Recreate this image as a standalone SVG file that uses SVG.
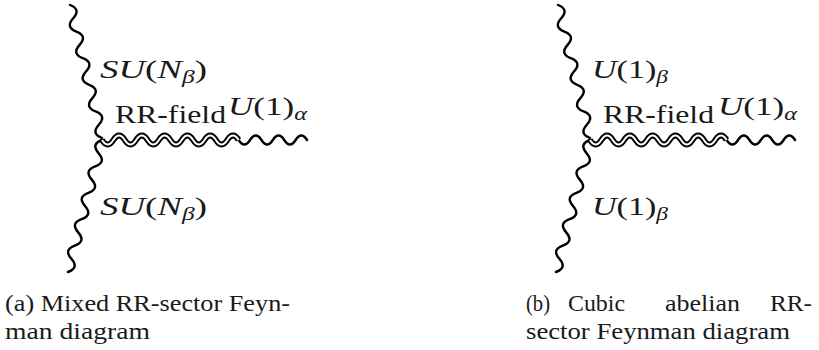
<svg xmlns="http://www.w3.org/2000/svg" width="819" height="350" viewBox="0 0 819 350">
<style>
.w{fill:none;stroke:#000;stroke-width:2.4;stroke-linecap:round;stroke-linejoin:round}
.dbo{fill:none;stroke:#000;stroke-width:5.8;stroke-linecap:butt}
.dbi{fill:none;stroke:#fff;stroke-width:2;stroke-linecap:butt}
.m{font-size:26px;fill:#1a1a1a}
.i{font-style:italic}
.s{font-size:18px}
.c{font-size:24px;fill:#1a1a1a}
</style>
<defs>
<path id="top" d="M70,5 c7.547,2.874 8.613,7.307 3.2,13.3 c-5.413,5.994 -4.347,10.427 3.2,13.3 c7.547,2.874 8.613,7.307 3.2,13.3 c-5.413,5.994 -4.347,10.427 3.2,13.3 c7.547,2.874 8.613,7.307 3.2,13.3 c-5.413,5.994 -4.347,10.427 3.2,13.3 c7.547,2.874 8.613,7.307 3.2,13.3 c-5.413,5.994 -4.347,10.427 3.2,13.3 c7.547,2.874 8.613,7.307 3.2,13.3 c-5.413,5.994 -4.347,10.427 3.2,13.3 L102,140"/>
<path id="bot" d="M102,140 c-7.589,2.737 -8.723,7.137 -3.4,13.2 c5.323,6.063 4.189,10.463 -3.4,13.2 c-7.589,2.737 -8.723,7.137 -3.4,13.2 c5.323,6.063 4.189,10.463 -3.4,13.2 c-7.589,2.737 -8.723,7.137 -3.4,13.2 c5.323,6.063 4.189,10.463 -3.4,13.2 c-7.589,2.737 -8.723,7.137 -3.4,13.2 c5.323,6.063 4.189,10.463 -3.4,13.2 c-7.589,2.737 -8.723,7.137 -3.4,13.2 c5.323,6.063 4.189,10.463 -3.4,13.2"/>
<path id="dbl" d="M102,140 c3.797,6 7.593,6 11.39,0 c3.797,-6 7.593,-6 11.39,0 c3.797,6 7.593,6 11.39,0 c3.797,-6 7.593,-6 11.39,0 c3.797,6 7.593,6 11.39,0 c3.797,-6 7.593,-6 11.39,0 c3.797,6 7.593,6 11.39,0 c3.797,-6 7.593,-6 11.39,0 c3.797,6 7.593,6 11.39,0 c3.797,-6 7.593,-6 11.39,0 c3.797,6 7.593,6 11.39,0 c3.797,-6 7.593,-6 11.39,0"/>
<path id="sgl" d="M238.68,140 c3.797,6 7.593,6 11.39,0 c3.797,-6 7.593,-6 11.39,0 c3.797,6 7.593,6 11.39,0 c3.797,-6 7.593,-6 11.39,0 c3.797,6 7.593,6 11.39,0 c3.797,-6 7.593,-6 11.39,0"/>
</defs>
<g id="connectors">
<g id="diagram-a-lines">
<use href="#top" class="w"/>
<use href="#bot" class="w"/>
<use href="#sgl" class="w"/>
<use href="#dbl" class="dbo"/>
<use href="#dbl" class="dbi"/>
</g>
<g id="diagram-b-lines" transform="translate(488,0)">
<use href="#top" class="w"/>
<use href="#bot" class="w"/>
<use href="#sgl" class="w"/>
<use href="#dbl" class="dbo"/>
<use href="#dbl" class="dbi"/>
</g>
</g>
<g font-family="'Liberation Serif','DejaVu Serif',serif">
<g id="label-a-top"><text class="m" x="100" y="78" textLength="107" lengthAdjust="spacingAndGlyphs"><tspan class="i">SU</tspan>(<tspan class="i">N</tspan><tspan class="i s" dy="5">β</tspan><tspan dy="-5">)</tspan></text></g>
<g id="label-a-rr"><text class="m" x="115" y="123" textLength="111" lengthAdjust="spacingAndGlyphs">RR-field</text></g>
<g id="label-a-alpha"><text class="m" x="228" y="115" textLength="79" lengthAdjust="spacingAndGlyphs"><tspan class="i">U</tspan>(1)<tspan class="i s" dy="5">α</tspan></text></g>
<g id="label-a-bot"><text class="m" x="100" y="215" textLength="107" lengthAdjust="spacingAndGlyphs"><tspan class="i">SU</tspan>(<tspan class="i">N</tspan><tspan class="i s" dy="5">β</tspan><tspan dy="-5">)</tspan></text></g>
<g id="label-b-top"><text class="m" x="592" y="78" textLength="76" lengthAdjust="spacingAndGlyphs"><tspan class="i">U</tspan>(1)<tspan class="i s" dy="5">β</tspan></text></g>
<g id="label-b-rr"><text class="m" x="603" y="123" textLength="111" lengthAdjust="spacingAndGlyphs">RR-field</text></g>
<g id="label-b-alpha"><text class="m" x="718" y="115" textLength="79" lengthAdjust="spacingAndGlyphs"><tspan class="i">U</tspan>(1)<tspan class="i s" dy="5">α</tspan></text></g>
<g id="label-b-bot"><text class="m" x="592" y="215" textLength="76" lengthAdjust="spacingAndGlyphs"><tspan class="i">U</tspan>(1)<tspan class="i s" dy="5">β</tspan></text></g>
<g id="caption-a">
<text class="c" x="5" y="311" textLength="285" lengthAdjust="spacingAndGlyphs">(a) Mixed RR-sector Feyn-</text>
<text class="c" x="5" y="339" textLength="145" lengthAdjust="spacingAndGlyphs">man diagram</text>
</g>
<g id="caption-b">
<text class="c" x="526" y="311" textLength="24" lengthAdjust="spacingAndGlyphs">(b)</text>
<text class="c" x="568" y="311" textLength="57" lengthAdjust="spacingAndGlyphs">Cubic</text>
<text class="c" x="665" y="311" textLength="75" lengthAdjust="spacingAndGlyphs">abelian</text>
<text class="c" x="770" y="311" textLength="42" lengthAdjust="spacingAndGlyphs">RR-</text>
<text class="c" x="526" y="339" textLength="264" lengthAdjust="spacingAndGlyphs">sector Feynman diagram</text>
</g>
</g>
</svg>
